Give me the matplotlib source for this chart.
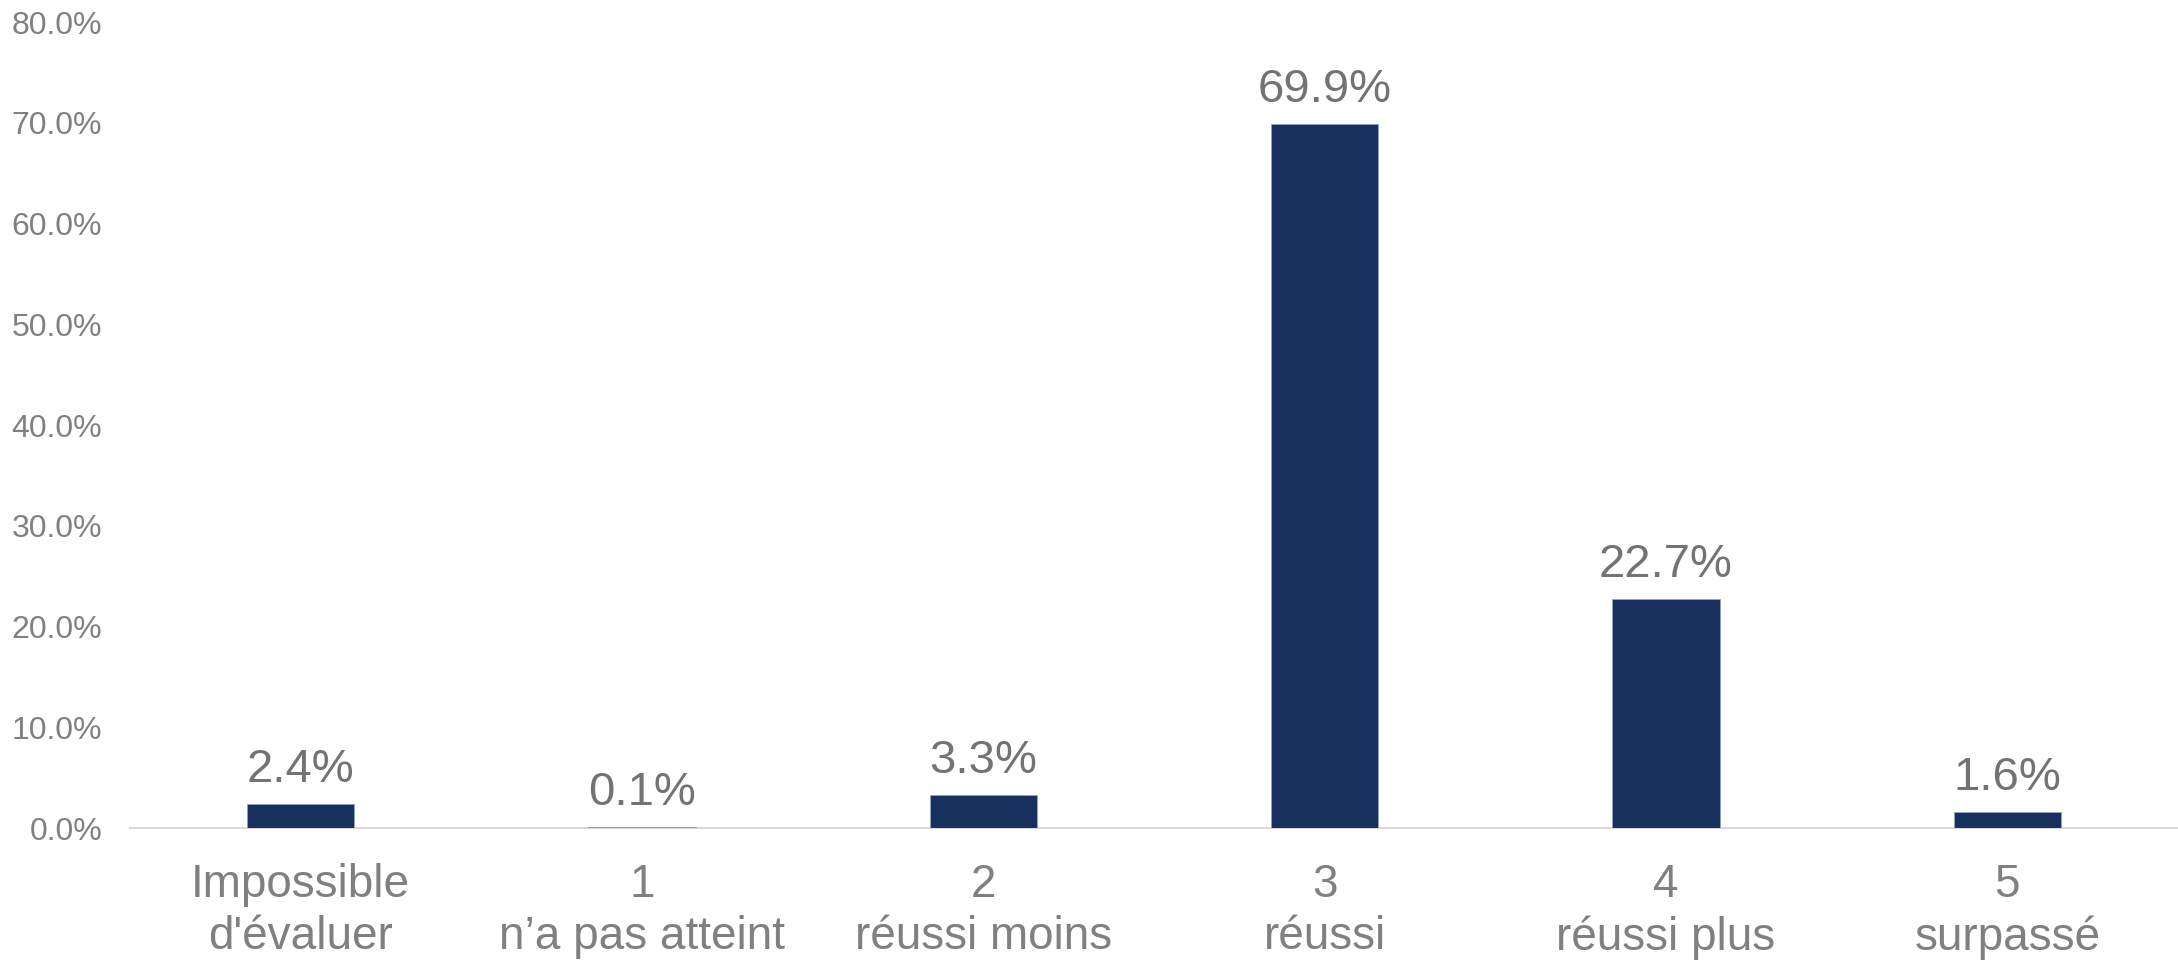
import matplotlib
matplotlib.use("Agg")
import matplotlib.pyplot as plt
from matplotlib.ticker import FuncFormatter

categories = ["Impossible\nd'évaluer", "1\nn’a pas atteint", "2\nréussi moins",
              "3\nréussi", "4\nréussi plus", "5\nsurpassé"]
values = [2.4, 0.1, 3.3, 69.9, 22.7, 1.6]
yticks = [0, 10, 20, 30, 40, 50, 60, 70, 80]

plt.rcParams['font.family'] = ['Liberation Sans', 'DejaVu Sans']

fig = plt.figure(figsize=(21.78, 9.63), dpi=100)
ax = fig.add_axes([0.0597, 0.140, 0.9403, 0.837])

x = range(len(categories))
ax.bar(x, values, width=0.315, color="#17305e", edgecolor="#8fa3c4", linewidth=0.6, zorder=3)

for xi, v in zip(x, values):
    ax.annotate(f"{v:.1f}%", (xi, v), xytext=(0, 12), textcoords="offset pixels",
                ha="center", va="bottom", fontsize=34, color="#737373")

ax.set_xlim(-0.5, len(categories) - 0.5)
ax.set_ylim(0, 80)
ax.set_yticks(yticks)
ax.yaxis.set_major_formatter(FuncFormatter(lambda v, p: f"{v:.1f}%"))
ax.set_xticks(list(x))
ax.set_xticklabels(categories, fontsize=33, color="#808080", linespacing=1.25)
ax.tick_params(axis="y", labelsize=23, labelcolor="#808080", length=0, pad=20)
ax.tick_params(axis="x", length=0, pad=25)

for s in ["top", "right", "left"]:
    ax.spines[s].set_visible(False)
ax.spines["bottom"].set_color("#d9d9d9")
ax.spines["bottom"].set_linewidth(1.5)

fig.savefig("out.png", dpi=100)
